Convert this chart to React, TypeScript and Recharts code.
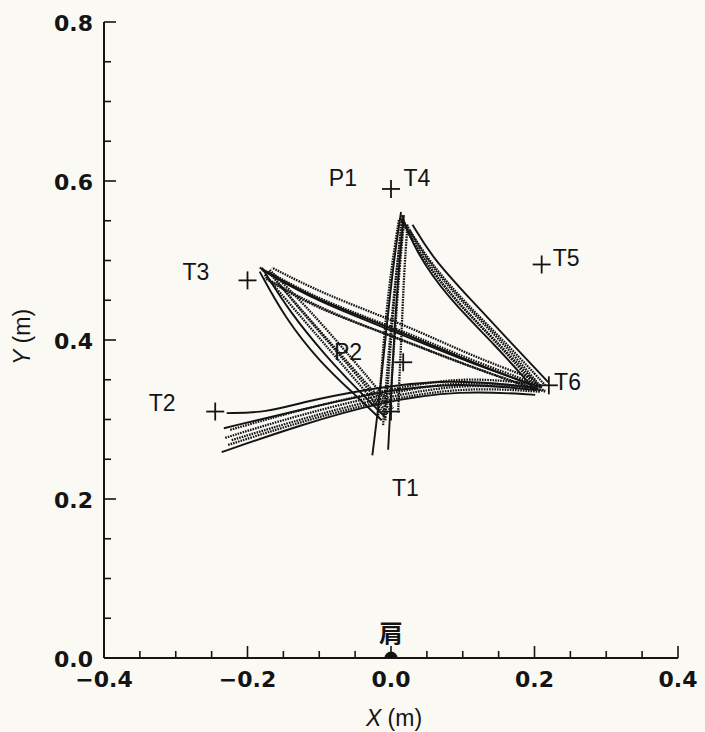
import React from "react";
import { ComposedChart, Line, Scatter, XAxis, YAxis } from "recharts";

type Pt = [number, number];

// axis ticks (every 0.05 m, labels on every 0.2 m)
const xTicks = [-0.4, -0.35, -0.3, -0.25, -0.2, -0.15, -0.1, -0.05, 0, 0.05, 0.1, 0.15, 0.2, 0.25, 0.3, 0.35, 0.4];
const yTicks = [0, 0.05, 0.1, 0.15, 0.2, 0.25, 0.3, 0.35, 0.4, 0.45, 0.5, 0.55, 0.6, 0.65, 0.7, 0.75, 0.8];

// hand paths (x, y in m)
const t1ToT4Dotted: Pt[][] = [
  [[-0.008, 0.299], [-0.004, 0.35], [0.001, 0.413], [0.008, 0.488], [0.015, 0.553]],
  [[-0.001, 0.306], [0.001, 0.356], [0.006, 0.413], [0.011, 0.482], [0.018, 0.548]],
  [[-0.018, 0.302], [-0.014, 0.352], [-0.009, 0.413], [0.0, 0.488], [0.011, 0.551]],
  [[0.01, 0.309], [0.012, 0.36], [0.015, 0.413], [0.018, 0.482], [0.023, 0.545]],
  [[-0.011, 0.293], [-0.007, 0.343], [-0.001, 0.406], [0.007, 0.486], [0.017, 0.553]],
];
const t1ToT4Solid: Pt[][] = [
  [[-0.026, 0.255], [-0.018, 0.312], [-0.008, 0.4], [0.004, 0.501], [0.014, 0.561]],
  [[-0.004, 0.262], [-0.001, 0.312], [0.004, 0.4], [0.011, 0.494], [0.018, 0.557]],
];

const t4ToT6Dotted: Pt[][] = [
  [[0.018, 0.548], [0.04, 0.507], [0.089, 0.45], [0.152, 0.394], [0.205, 0.343]],
  [[0.022, 0.545], [0.047, 0.503], [0.096, 0.45], [0.159, 0.394], [0.21, 0.34]],
  [[0.026, 0.538], [0.054, 0.498], [0.103, 0.447], [0.166, 0.391], [0.215, 0.343]],
  [[0.013, 0.553], [0.038, 0.511], [0.085, 0.453], [0.149, 0.396], [0.208, 0.335]],
];
const t4ToT6Solid: Pt[][] = [
  [[0.015, 0.557], [0.033, 0.513], [0.079, 0.453], [0.145, 0.394], [0.201, 0.337]],
  [[0.03, 0.545], [0.058, 0.503], [0.112, 0.45], [0.17, 0.394], [0.219, 0.347]],
];

const t6ToT3Dotted: Pt[][] = [
  [[0.208, 0.343], [0.11, 0.375], [0.013, 0.413], [-0.099, 0.45], [-0.171, 0.486]],
  [[0.203, 0.337], [0.103, 0.369], [0.006, 0.404], [-0.106, 0.44], [-0.176, 0.478]],
  [[0.201, 0.35], [0.11, 0.381], [0.02, 0.419], [-0.092, 0.457], [-0.166, 0.491]],
  [[0.215, 0.335], [0.113, 0.365], [0.015, 0.4], [-0.096, 0.438], [-0.169, 0.475]],
];
const t6ToT3Solid: Pt[][] = [
  [[0.21, 0.34], [0.107, 0.372], [0.01, 0.409], [-0.102, 0.448], [-0.18, 0.488]],
  [[0.197, 0.343], [0.099, 0.377], [0.001, 0.415], [-0.11, 0.453], [-0.183, 0.491]],
];

const t3ToT1Dotted: Pt[][] = [
  [[-0.176, 0.482], [-0.134, 0.438], [-0.085, 0.387], [-0.043, 0.343], [-0.008, 0.306]],
  [[-0.171, 0.486], [-0.127, 0.44], [-0.078, 0.39], [-0.036, 0.347], [-0.001, 0.312]],
  [[-0.169, 0.488], [-0.12, 0.444], [-0.071, 0.394], [-0.029, 0.35], [0.003, 0.314]],
  [[-0.166, 0.482], [-0.124, 0.435], [-0.075, 0.385], [-0.033, 0.34], [-0.004, 0.306]],
];
const t3ToT1Solid: Pt[][] = [
  [[-0.183, 0.486], [-0.148, 0.428], [-0.099, 0.372], [-0.05, 0.331], [-0.013, 0.299]],
  [[-0.18, 0.491], [-0.141, 0.435], [-0.092, 0.381], [-0.046, 0.337], [-0.007, 0.302]],
];

const t2ToT6Dotted: Pt[][] = [
  [[-0.231, 0.277], [-0.127, 0.306], [-0.015, 0.331], [0.096, 0.35], [0.205, 0.34]],
  [[-0.227, 0.268], [-0.12, 0.299], [-0.008, 0.325], [0.103, 0.341], [0.208, 0.335]],
  [[-0.224, 0.287], [-0.12, 0.314], [-0.008, 0.337], [0.103, 0.355], [0.21, 0.343]],
  [[-0.222, 0.274], [-0.113, 0.304], [-0.001, 0.33], [0.11, 0.346], [0.215, 0.337]],
];
const t2ToT6Solid: Pt[][] = [
  [[-0.236, 0.259], [-0.127, 0.293], [-0.015, 0.322], [0.096, 0.337], [0.201, 0.331]],
  [[-0.233, 0.289], [-0.127, 0.312], [-0.018, 0.335], [0.093, 0.347], [0.202, 0.337]],
  [[-0.229, 0.308], [-0.173, 0.309], [-0.127, 0.321], [-0.043, 0.337], [0.082, 0.352], [0.201, 0.34]],
];

// target marks (+)
const targetNames = ["T1", "T2", "T3", "T4", "T5", "T6", "P2"];
const targetX = [0.0, -0.245, -0.2, 0.0, 0.21, 0.22, 0.017];
const targetY = [0.31, 0.31, 0.475, 0.59, 0.495, 0.343, 0.372];

// text annotations
const labelTexts = ["P1", "T4", "T5", "T3", "P2", "T2", "T6", "T1"];
const labelX = [-0.067, 0.036, 0.244, -0.272, -0.06, -0.319, 0.246, 0.02];
const labelY = [0.604, 0.604, 0.503, 0.486, 0.385, 0.321, 0.347, 0.214];

const shoulder = [{ x: 0, y: 0, name: "肩" }];
const shoulderLabel = [{ x: 0, y: 0.033, name: "肩" }];

const INK = "#141414";
const tickFont = "'DejaVu Sans', sans-serif";
const textFont = "'Liberation Sans', Arial, sans-serif";

const isMajor = (v: number) => Math.abs(v * 5 - Math.round(v * 5)) < 1e-6;
const fmt = (v: number) => (v < 0 ? "\u2212" + Math.abs(v).toFixed(1) : v.toFixed(1));
const toPts = (tr: Pt[]) => tr.map(([x, y]) => ({ x, y }));

const BottomTick = (props: any) => {
  const { x, y, payload } = props;
  const major = isMajor(payload.value);
  return (
    <g>
      <line x1={x} x2={x} y1={y} y2={y - (major ? 12 : 7)} stroke={INK} strokeWidth={1.6} />
      {major && (
        <text x={x} y={y + 21} textAnchor="middle" dominantBaseline="central" fontFamily={tickFont} fontWeight="bold" fontSize={22} fill={INK}>
          {fmt(payload.value)}
        </text>
      )}
    </g>
  );
};

const TopTick = (props: any) => {
  const { x, y, payload } = props;
  const major = isMajor(payload.value);
  return <line x1={x} x2={x} y1={y} y2={y + (major ? 12 : 7)} stroke={INK} strokeWidth={1.6} />;
};

const LeftTick = (props: any) => {
  const { x, y, payload } = props;
  const major = isMajor(payload.value);
  return (
    <g>
      <line x1={x} x2={x + (major ? 12 : 7)} y1={y} y2={y} stroke={INK} strokeWidth={1.6} />
      {major && (
        <text x={x - 11} y={y + 1} textAnchor="end" dominantBaseline="central" fontFamily={tickFont} fontWeight="bold" fontSize={22} fill={INK}>
          {fmt(payload.value)}
        </text>
      )}
    </g>
  );
};

const RightTick = (props: any) => {
  const { x, y, payload } = props;
  const major = isMajor(payload.value);
  return <line x1={x} x2={x - (major ? 12 : 7)} y1={y} y2={y} stroke={INK} strokeWidth={1.6} />;
};

const PlusMark = (props: any) => {
  const { cx, cy } = props;
  return (
    <g stroke={INK} strokeWidth={1.8}>
      <line x1={cx - 9} x2={cx + 9} y1={cy} y2={cy} />
      <line x1={cx} x2={cx} y1={cy - 9} y2={cy + 9} />
    </g>
  );
};

const TextMark = (props: any) => {
  const { cx, cy, payload } = props;
  return (
    <text x={cx} y={cy} textAnchor="middle" dominantBaseline="central" fontFamily={textFont} fontSize={23} fill={INK}>
      {payload.name}
    </text>
  );
};

const ShoulderText = (props: any) => {
  const { cx, cy, payload } = props;
  return (
    <text x={cx} y={cy} textAnchor="middle" dominantBaseline="central" fontFamily="'Noto Sans CJK JP', sans-serif" fontWeight="bold" fontSize={24} fill={INK}>
      {payload.name}
    </text>
  );
};

const ShoulderDot = (props: any) => <circle cx={props.cx} cy={props.cy} r={6.5} fill={INK} />;

const dotted = [...t1ToT4Dotted, ...t4ToT6Dotted, ...t6ToT3Dotted, ...t3ToT1Dotted, ...t2ToT6Dotted];
const solid = [...t1ToT4Solid, ...t4ToT6Solid, ...t6ToT3Solid, ...t3ToT1Solid, ...t2ToT6Solid];

const targets = targetNames.map((name, i) => ({ name, x: targetX[i], y: targetY[i] }));
const labels = labelTexts.map((name, i) => ({ name, x: labelX[i], y: labelY[i] }));

export default function App() {
  return (
    <div style={{ position: "absolute", left: 0, top: 0, width: 705, height: 732, background: "#faf9f4" }}>
      <ComposedChart width={705} height={732} margin={{ top: 22, right: 27, bottom: 0, left: 0 }}>
        <XAxis
          dataKey="x"
          type="number"
          domain={[-0.4, 0.4]}
          ticks={xTicks}
          interval={0}
          allowDataOverflow
          height={74}
          tickSize={0}
          tickMargin={0}
          tickLine={false}
          axisLine={{ stroke: INK, strokeWidth: 2 }}
          tick={<BottomTick />}
          label={{
            content: (p: any) => (
              <text x={p.viewBox.x + p.viewBox.width / 2 + 3} y={p.viewBox.y + 60} textAnchor="middle" dominantBaseline="central" fontFamily={textFont} fontSize={23} fill={INK}>
                <tspan fontStyle="italic">X</tspan>
                <tspan> (m)</tspan>
              </text>
            ),
          }}
        />
        <XAxis
          xAxisId="top"
          orientation="top"
          dataKey="x"
          type="number"
          domain={[-0.4, 0.4]}
          ticks={xTicks}
          interval={0}
          allowDataOverflow
          height={0}
          tickSize={0}
          tickMargin={0}
          tickLine={false}
          axisLine={{ stroke: INK, strokeWidth: 2 }}
          tick={<TopTick />}
        />
        <YAxis
          dataKey="y"
          type="number"
          domain={[0, 0.8]}
          ticks={yTicks}
          interval={0}
          allowDataOverflow
          width={104}
          tickSize={0}
          tickMargin={0}
          tickLine={false}
          axisLine={{ stroke: INK, strokeWidth: 2 }}
          tick={<LeftTick />}
          label={{
            content: (p: any) => {
              const cx = p.viewBox.x + 22;
              const cy = p.viewBox.y + 315;
              return (
                <text x={cx} y={cy} transform={`rotate(-90 ${cx} ${cy})`} textAnchor="middle" dominantBaseline="central" fontFamily={textFont} fontSize={23} fill={INK}>
                  <tspan fontStyle="italic">Y</tspan>
                  <tspan> (m)</tspan>
                </text>
              );
            },
          }}
        />
        <YAxis
          yAxisId="right"
          orientation="right"
          dataKey="y"
          type="number"
          domain={[0, 0.8]}
          ticks={yTicks}
          interval={0}
          allowDataOverflow
          width={0}
          tickSize={0}
          tickMargin={0}
          tickLine={false}
          axisLine={{ stroke: INK, strokeWidth: 2 }}
          tick={<RightTick />}
        />
        {dotted.map((tr, i) => (
          <Line
            key={"d" + i}
            data={toPts(tr)}
            dataKey="y"
            type="basis"
            stroke={INK}
            strokeWidth={2.3}
            strokeDasharray="1.6 1"
            dot={false}
            activeDot={false}
            isAnimationActive={false}
          />
        ))}
        {solid.map((tr, i) => (
          <Line
            key={"s" + i}
            data={toPts(tr)}
            dataKey="y"
            type="basis"
            stroke={INK}
            strokeWidth={1.9}
            dot={false}
            activeDot={false}
            isAnimationActive={false}
          />
        ))}
        <Scatter data={targets} shape={<PlusMark />} isAnimationActive={false} />
        <Scatter data={labels} shape={<TextMark />} isAnimationActive={false} />
        <Scatter data={shoulderLabel} shape={<ShoulderText />} isAnimationActive={false} />
        <Scatter data={shoulder} shape={<ShoulderDot />} isAnimationActive={false} />
      </ComposedChart>
    </div>
  );
}
